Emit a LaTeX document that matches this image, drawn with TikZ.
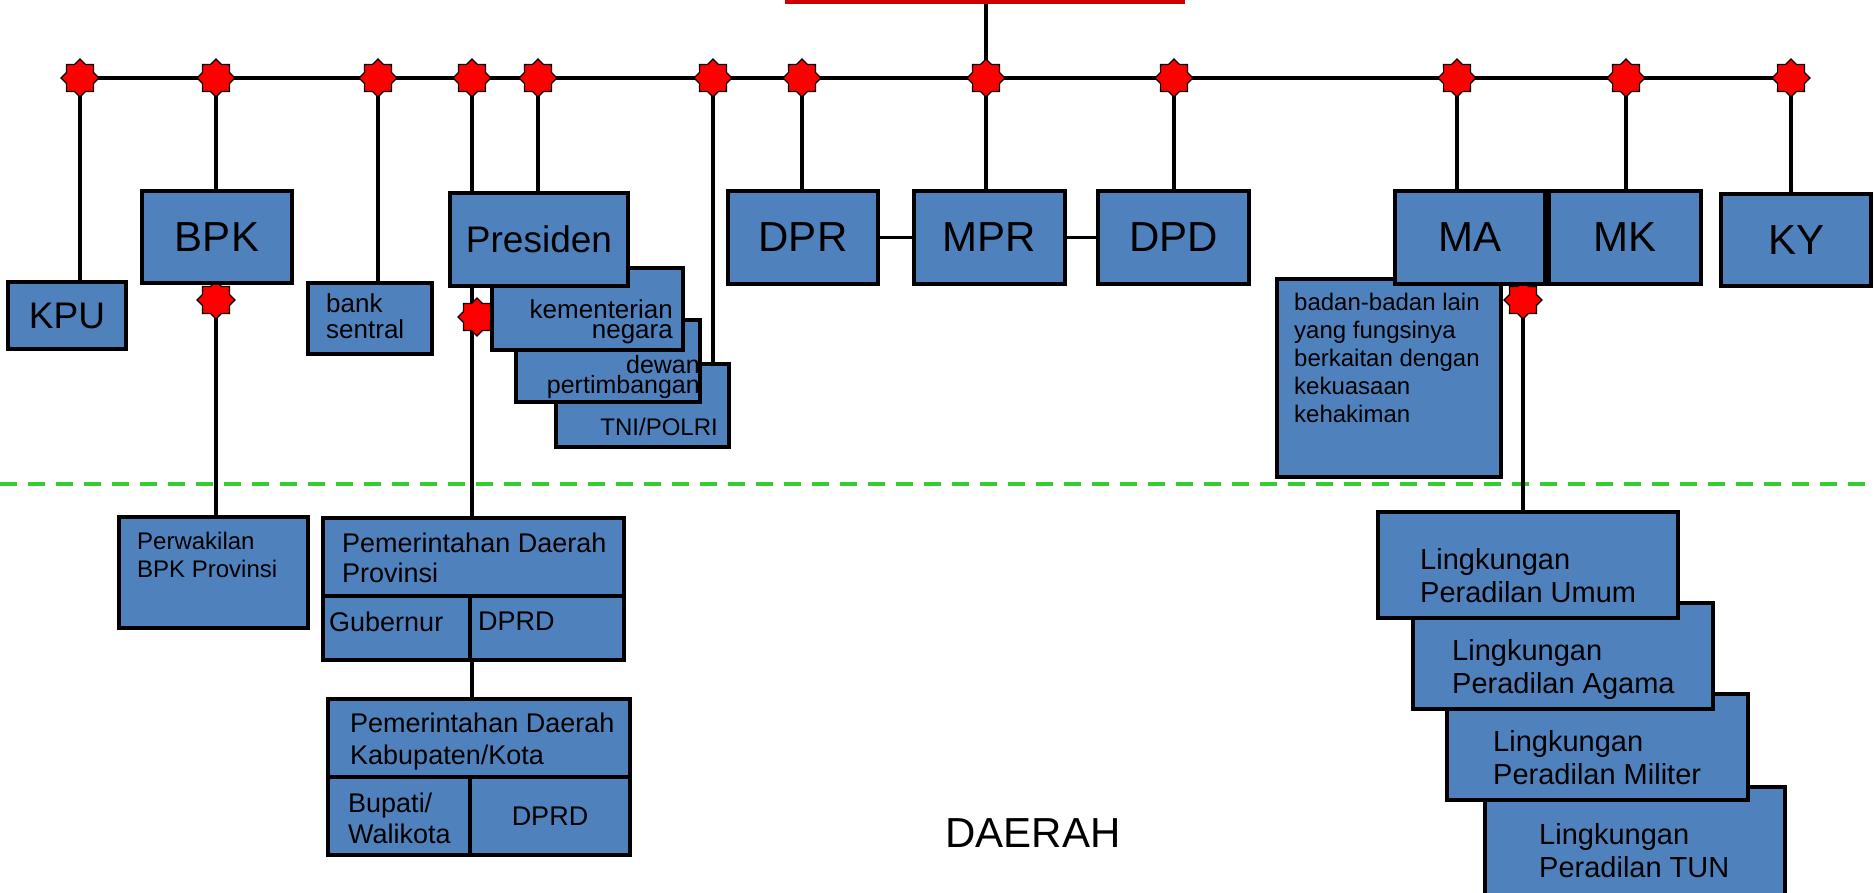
\documentclass[tikz,border=0pt]{standalone}
\usepackage{fontspec}
\setmainfont{Liberation Sans}
\usepackage{tikz}
\usetikzlibrary{shapes.geometric}
\definecolor{boxblue}{RGB}{79,129,189}
\definecolor{topred}{RGB}{204,0,0}
\definecolor{batas}{RGB}{51,204,51}
\newcommand{\fsz}[2]{\fontsize{#1}{#2}\selectfont}
\pgfdeclarelayer{bg}
\pgfsetlayers{bg,main}

\begin{document}
\begin{tikzpicture}[x=1pt, y=-1pt,
    box/.style={draw=black, line width=4pt, fill=boxblue, inner sep=0pt},
    conn/.style={line width=3.5pt},
    bintang/.style={star, star points=8, star point ratio=1.31, draw=black,
        line width=1.2pt, fill=red, minimum size=38pt, inner sep=0pt},
    txt/.style={inner sep=0pt, align=left, anchor=north west},
    txtr/.style={inner sep=0pt, align=right, anchor=north east}]

        \useasboundingbox (0,0) rectangle (1874,893);

        \node (top) [fill=topred, minimum width=400pt, minimum height=24pt, inner sep=0pt] at (985,-8) {};

        % bintang di bawah kotak
        \node (sb) [bintang] at (216,300) {};
        \node (sp) [bintang] at (477,317) {};
        \node (sm) [bintang] at (1523,300) {};

        \node (kpu) [box, minimum width=118pt, minimum height=66pt, font=\fsz{37}{40}] at (67,315.5) {KPU};
        \node (bpk) [box, minimum width=150pt, minimum height=92pt, font=\fsz{42}{46}] at (217,237) {BPK};
        \node (bank) [box, minimum width=124pt, minimum height=71pt] at (370,318.5) {};
        \node (bank_t) [txt, font=\fsz{26}{26}] at (326,293) {bank\\sentral};

        \node (tni) [box, minimum width=173pt, minimum height=83pt] at (642.5,405.5) {};
        \node (tni_t) [txtr, font=\fsz{24}{24}] at (718,418) {TNI/POLRI};
        \node (dp) [box, minimum width=184pt, minimum height=82pt] at (608,361) {};
        \node (dp_t) [txtr, font=\fsz{25}{20}] at (700,355) {dewan\\pertimbangan};
        \node (kn) [box, minimum width=191pt, minimum height=82pt] at (587.5,309) {};
        \node (kn_t) [txtr, font=\fsz{26}{20}] at (673,299) {kementerian\\negara};
        \node (pres) [box, minimum width=178pt, minimum height=93pt, font=\fsz{37}{40}] at (539,239.5) {Presiden};

        \node (dpr) [box, minimum width=150pt, minimum height=93pt, font=\fsz{42}{46}] at (803,237.5) {DPR};
        \node (mpr) [box, minimum width=151pt, minimum height=93pt, font=\fsz{42}{46}] at (989.5,237.5) {MPR};
        \node (dpd) [box, minimum width=151pt, minimum height=93pt, font=\fsz{42}{46}] at (1173.5,237.5) {DPD};

        \node (bl) [box, minimum width=224pt, minimum height=198pt] at (1389,378) {};
        \node (bl_t) [txt, font=\fsz{24}{28}] at (1294,293) {badan-badan lain\\yang fungsinya\\berkaitan dengan\\kekuasaan\\kehakiman};
        \node (ma) [box, minimum width=150pt, minimum height=93pt, font=\fsz{42}{46}] at (1470,237.5) {MA};
        \node (mk) [box, minimum width=152pt, minimum height=93pt, font=\fsz{42}{46}] at (1625,237.5) {MK};
        \node (ky) [box, minimum width=150pt, minimum height=92pt, font=\fsz{42}{46}] at (1796,240) {KY};

        % garis utama
        \foreach \x [count=\i] in {80,216,378,472,538,713,802,986,1174,1457,1626,1791}
            \node (s\i) [bintang] at (\x,78) {};

        % daerah
        \node (pbp) [box, minimum width=189pt, minimum height=111pt] at (213.5,572.5) {};
        \node (pbp_t) [txt, font=\fsz{24}{28}] at (137,532) {Perwakilan\\BPK Provinsi};

        \node (prov) [box, minimum width=301pt, minimum height=78pt] at (473.5,557) {};
        \node (gub) [box, minimum width=147pt, minimum height=64pt] at (396.5,628) {};
        \node (dprd1) [box, minimum width=154pt, minimum height=64pt] at (547,628) {};
        \node (prov_t) [txt, font=\fsz{27}{30}] at (342,533) {Pemerintahan Daerah\\Provinsi};
        \node (gub_t) [txt, font=\fsz{27}{30}] at (329,612) {Gubernur};
        \node (dprd1_t) [txt, font=\fsz{27}{30}] at (478,612) {DPRD};

        \node (kab) [box, minimum width=302pt, minimum height=78pt] at (479,738) {};
        \node (bup) [box, minimum width=142pt, minimum height=78pt] at (399,816) {};
        \node (dprd2) [box, minimum width=160pt, minimum height=78pt, font=\fsz{27}{30}] at (550,816) {DPRD};
        \node (kab_t) [txt, font=\fsz{27}{32}] at (350,713) {Pemerintahan Daerah\\Kabupaten/Kota};
        \node (bup_t) [txt, font=\fsz{27}{31}] at (348,793) {Bupati/\\Walikota};

        \node (tun) [box, minimum width=300pt, minimum height=118pt] at (1635,846) {};
        \node (tun_t) [txt, font=\fsz{29}{33}] at (1539,823) {Lingkungan\\Peradilan TUN};
        \node (mil) [box, minimum width=301pt, minimum height=106pt] at (1597.5,747) {};
        \node (mil_t) [txt, font=\fsz{29}{33}] at (1493,730) {Lingkungan\\Peradilan Militer};
        \node (aga) [box, minimum width=300pt, minimum height=106pt] at (1563,656) {};
        \node (aga_t) [txt, font=\fsz{29}{33}] at (1452,639) {Lingkungan\\Peradilan Agama};
        \node (umum) [box, minimum width=300pt, minimum height=106pt] at (1528,565) {};
        \node (umum_t) [txt, font=\fsz{29}{33}] at (1420,548) {Lingkungan\\Peradilan Umum};

        \node (daerah) [font=\fsz{42}{46}] at (1033,833) {DAERAH};

        \begin{pgfonlayer}{bg}
        \draw[batas, line width=4pt, dash pattern=on 17pt off 11pt] (0,484) -- (1874,484);
        \draw[conn] (s1.center) -- (s12.center);
        \path (top.south -| s8) edge[conn] (s8.center);
        \foreach \s/\b in {1/kpu,2/bpk,3/bank,4/pres,5/pres,6/tni,7/dpr,8/mpr,9/dpd,10/ma,11/mk,12/ky}
            \path (s\s.center) edge[conn] (s\s |- \b.north);
        \draw[conn] (dpr) -- (mpr) -- (dpd);
        \path (sb.center) edge[conn] (sb |- pbp.north);
        \path (gub.north east |- pres.south) edge[conn] (gub.north east |- prov.north);
        \path (gub.south east) edge[conn] (gub.south east |- kab.north);
        \path (sm.center) edge[conn] (sm |- umum.north);
        \end{pgfonlayer}
    \end{tikzpicture}
\end{document}
